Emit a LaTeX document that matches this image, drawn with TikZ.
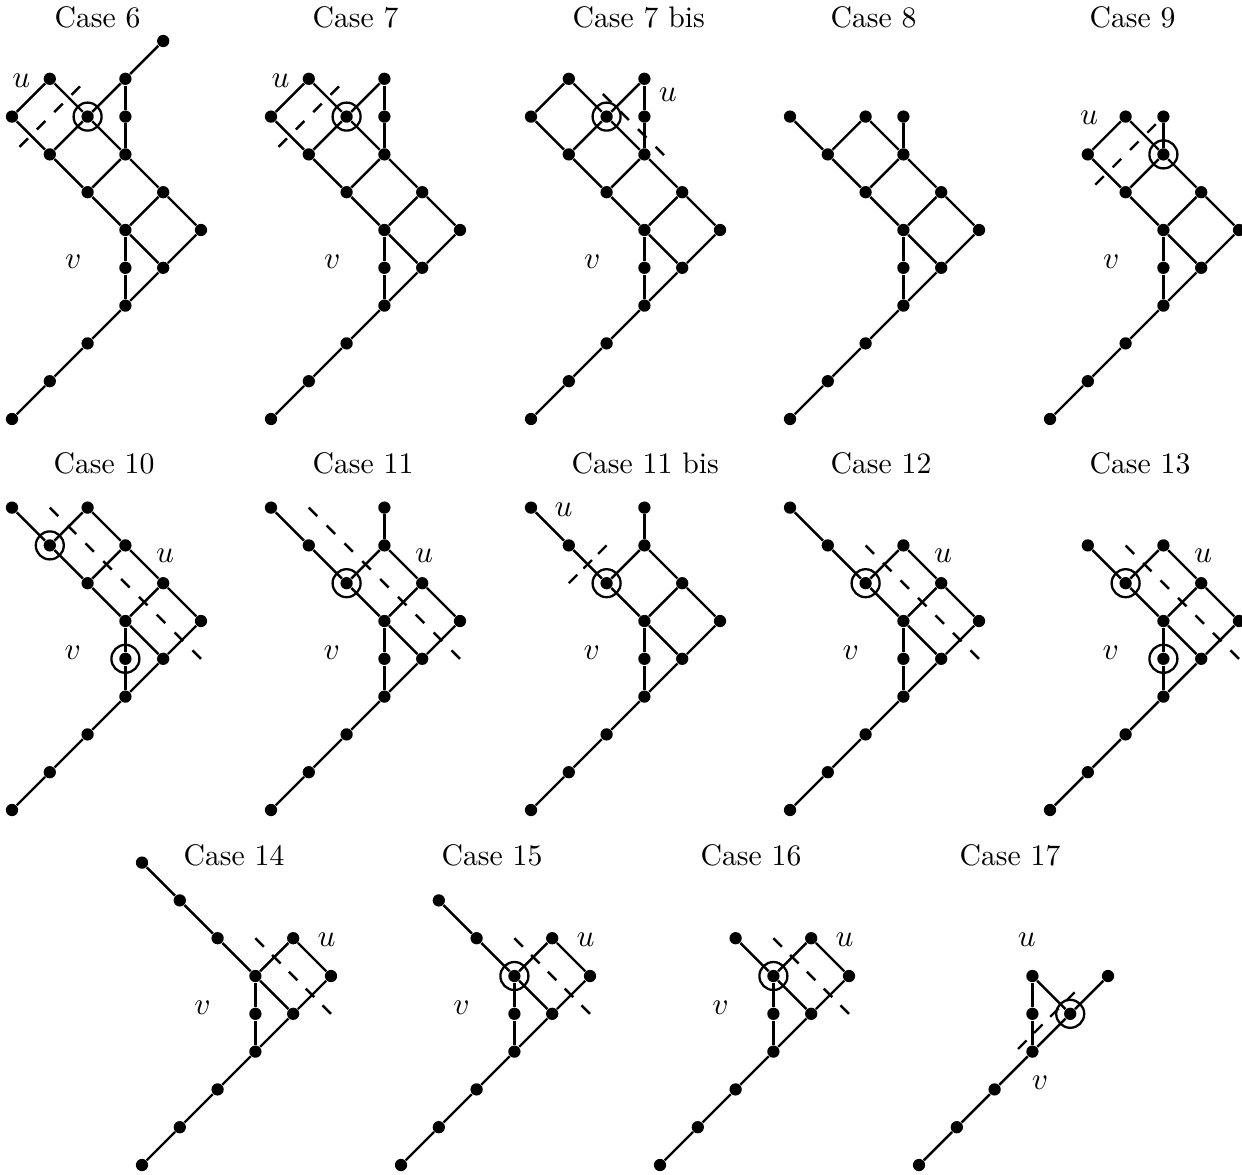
\documentclass[tikz,border=0pt]{standalone}
\tikzset{
  dot/.style={circle, fill=black, inner sep=0pt, minimum size=4.3pt},
  ring/.style={circle, draw, line width=0.8pt, inner sep=0pt, minimum size=9.8pt},
  edge/.style={line width=0.85pt},
  cut/.style={line width=0.85pt},
  lab/.style={inner sep=0pt, font=\fontsize{10.5}{12}\selectfont},
  title/.style={anchor=base west, inner sep=0pt, font=\fontsize{10.4}{12}\selectfont},
  panel/.style={x=13.23pt, y=13.23pt, name prefix=#1-},
}
\newcommand\putdots[1]{\foreach \i/\j in {#1} {\node[dot] (p\i\j) at (\i,\j) {};}}
\newcommand\putedges[1]{\foreach \a/\b in {#1} {\draw[edge] (p\a) -- (p\b);}}
\newcommand\lowerpart{%
  \putdots{0/0,1/1,2/2,3/3,3/4,4/4,3/5,4/6,5/5}%
  \putedges{00/11,11/22,22/33,33/34,34/35,33/44,44/55,35/44,35/46,46/55}}
\newcommand\cutline[4]{%
  \pgfmathsetmacro\cutL{veclen((#3)-(#1),(#4)-(#2))*13.23}%
  \pgfmathsetmacro\cutN{max(1,round((\cutL-4.2)/8.4))}%
  \pgfmathsetmacro\cutOff{(\cutL-4.2)/\cutN-4.2}%
  \coordinate (da) at (#1,#2); \coordinate (db) at (#3,#4);
  \draw[cut, dash pattern=on 4.2pt off \cutOff pt] (da) -- (db);}
\begin{document}
\begin{tikzpicture}[x=0.35pt, y=-0.35pt]
\useasboundingbox (0,0) rectangle (1242,1174);

% titles
\node[title] (t6)   at (54,28)   {Case 6};
\node[title] (t7)   at (312,28)  {Case 7};
\node[title] (t7b)  at (572,28)  {Case 7 bis};
\node[title] (t8)   at (830,28)  {Case 8};
\node[title] (t9)   at (1089,28) {Case 9};
\node[title] (t10)  at (53,473)  {Case 10};
\node[title] (t11)  at (312,473) {Case 11};
\node[title] (t11b) at (571,473) {Case 11 bis};
\node[title] (t12)  at (830,473) {Case 12};
\node[title] (t13)  at (1089,473) {Case 13};
\node[title] (t14)  at (183,865) {Case 14};
\node[title] (t15)  at (441,865) {Case 15};
\node[title] (t16)  at (700,865) {Case 16};
\node[title] (t17)  at (959,865) {Case 17};

% Case 6
\begin{scope}[shift={(12,419)}, panel=c6]
  \lowerpart
  \putdots{4/10,3/9,1/9,0/8,2/8,3/8,1/7,3/7,2/6}
  \putedges{08/19,19/28,28/39,39/410,39/38,38/37,08/17,17/28,28/37,17/26,26/37,26/35,37/46}
  \node[ring] (r1) at (p28) {};
  \cutline{1.8}{8.8}{0.2}{7.2}
  \node[lab] (u) at (0.25,8.95) {$u$};
  \node[lab] (v) at (1.62,4.15) {$v$};
\end{scope}

% Case 7
\begin{scope}[shift={(271,419)}, panel=c7]
  \lowerpart
  \putdots{3/9,1/9,0/8,2/8,3/8,1/7,3/7,2/6}
  \putedges{08/19,19/28,28/39,39/38,38/37,08/17,17/28,28/37,17/26,26/37,26/35,37/46}
  \node[ring] (r1) at (p28) {};
  \cutline{1.8}{8.8}{0.2}{7.2}
  \node[lab] (u) at (0.25,8.95) {$u$};
  \node[lab] (v) at (1.62,4.15) {$v$};
\end{scope}

% Case 7 bis
\begin{scope}[shift={(531,419)}, panel=c7b]
  \lowerpart
  \putdots{3/9,1/9,0/8,2/8,3/8,1/7,3/7,2/6}
  \putedges{08/19,19/28,28/39,39/38,38/37,08/17,17/28,28/37,17/26,26/37,26/35,37/46}
  \node[ring] (r1) at (p28) {};
  \cutline{1.9}{8.6}{3.52}{6.98}
  \node[lab] (u) at (3.62,8.57) {$u$};
  \node[lab] (v) at (1.62,4.15) {$v$};
\end{scope}

% Case 8
\begin{scope}[shift={(790,419)}, panel=c8]
  \lowerpart
  \putdots{0/8,1/7,2/8,3/8,3/7,2/6}
  \putedges{08/17,17/28,28/37,38/37,17/26,26/37,26/35,37/46}
\end{scope}

% Case 9
\begin{scope}[shift={(1050,419)}, panel=c9]
  \lowerpart
  \putdots{1/7,2/8,3/8,3/7,2/6}
  \putedges{17/28,28/37,38/37,17/26,26/37,26/35,37/46}
  \node[ring] (r1) at (p37) {};
  \cutline{2.8}{7.8}{1.2}{6.2}
  \node[lab] (u) at (1.03,7.97) {$u$};
  \node[lab] (v) at (1.62,4.15) {$v$};
\end{scope}

% Case 10
\begin{scope}[shift={(12,810)}, panel=c10]
  \lowerpart
  \putdots{0/8,1/7,2/8,3/7,2/6}
  \putedges{08/17,17/28,28/37,17/26,26/37,26/35,37/46}
  \node[ring] (r1) at (p17) {};
  \node[ring] (r2) at (p34) {};
  \cutline{1}{8}{5}{4}
  \node[lab] (u) at (4.05,6.72) {$u$};
  \node[lab] (v) at (1.61,4.15) {$v$};
\end{scope}

% Case 11
\begin{scope}[shift={(271,810)}, panel=c11]
  \lowerpart
  \putdots{0/8,1/7,2/6,3/8,3/7}
  \putedges{08/17,17/26,26/35,26/37,38/37,37/46}
  \node[ring] (r1) at (p26) {};
  \cutline{1}{8}{5}{4}
  \node[lab] (u) at (4.05,6.72) {$u$};
  \node[lab] (v) at (1.61,4.15) {$v$};
\end{scope}

% Case 11 bis
\begin{scope}[shift={(531,810)}, panel=c11b]
  \lowerpart
  \putdots{0/8,1/7,2/6,3/8,3/7}
  \putedges{08/17,17/26,26/35,26/37,38/37,37/46}
  \node[ring] (r1) at (p26) {};
  \cutline{2}{7}{1}{6}
  \node[lab] (u) at (0.86,7.94) {$u$};
  \node[lab] (v) at (1.61,4.15) {$v$};
\end{scope}

% Case 12
\begin{scope}[shift={(790,810)}, panel=c12]
  \lowerpart
  \putdots{0/8,1/7,2/6,3/7}
  \putedges{08/17,17/26,26/35,26/37,37/46}
  \node[ring] (r1) at (p26) {};
  \cutline{2}{7}{5}{4}
  \node[lab] (u) at (4.05,6.72) {$u$};
  \node[lab] (v) at (1.61,4.15) {$v$};
\end{scope}

% Case 13
\begin{scope}[shift={(1050,810)}, panel=c13]
  \lowerpart
  \putdots{1/7,2/6,3/7}
  \putedges{17/26,26/35,26/37,37/46}
  \node[ring] (r1) at (p26) {};
  \node[ring] (r2) at (p34) {};
  \cutline{2}{7}{5}{4}
  \node[lab] (u) at (4.05,6.72) {$u$};
  \node[lab] (v) at (1.61,4.15) {$v$};
\end{scope}

% Case 14
\begin{scope}[shift={(142,1165)}, panel=c14]
  \lowerpart
  \putdots{0/8,1/7,2/6}
  \putedges{08/17,17/26,26/35}
  \cutline{3}{6}{5}{4}
  \node[lab] (u) at (4.88,5.95) {$u$};
  \node[lab] (v) at (1.6,4.15) {$v$};
\end{scope}

% Case 15
\begin{scope}[shift={(401,1165)}, panel=c15]
  \lowerpart
  \putdots{1/7,2/6}
  \putedges{17/26,26/35}
  \node[ring] (r1) at (p35) {};
  \cutline{3}{6}{5}{4}
  \node[lab] (u) at (4.88,5.95) {$u$};
  \node[lab] (v) at (1.6,4.15) {$v$};
\end{scope}

% Case 16
\begin{scope}[shift={(660,1165)}, panel=c16]
  \lowerpart
  \putdots{2/6}
  \putedges{26/35}
  \node[ring] (r1) at (p35) {};
  \cutline{3}{6}{5}{4}
  \node[lab] (u) at (4.88,5.95) {$u$};
  \node[lab] (v) at (1.6,4.15) {$v$};
\end{scope}

% Case 17
\begin{scope}[shift={(919,1165)}, panel=c17]
  \putdots{0/0,1/1,2/2,3/3,3/4,4/4,3/5,5/5}
  \putedges{00/11,11/22,22/33,33/34,34/35,35/44,33/44,44/55}
  \node[ring] (r1) at (p44) {};
  \cutline{4.12}{4.57}{2.62}{3.07}
  \node[lab] (u) at (2.85,5.95) {$u$};
  \node[lab] (v) at (3.2,2.17) {$v$};
\end{scope}
\end{tikzpicture}
\end{document}
